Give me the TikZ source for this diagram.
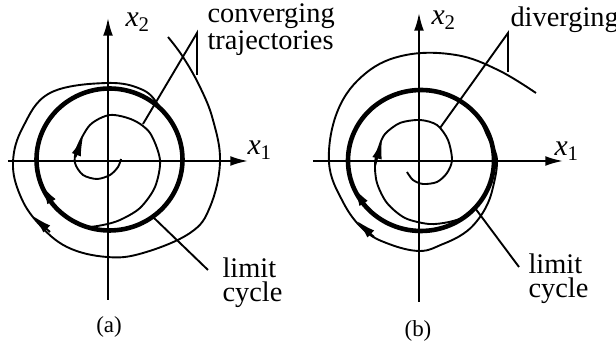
\documentclass[tikz,border=0pt]{standalone}
\usepackage{fontspec}
\setmainfont{Liberation Serif}
\usetikzlibrary{arrows.meta}

\tikzset{
  axis/.style={line width=0.7pt, -{Latex[length=6.5pt,width=3.6pt]}},
  traj/.style={line width=0.7pt},
  limcyc/.style={line width=1.7pt, line cap=round},
  ptr/.style={line width=0.7pt},
  flow/.style={line width=0.7pt, -{Latex[length=7pt,width=3.6pt]}},
  lbl/.style={font=\fontsize{10.5pt}{9pt}\selectfont, align=left, inner sep=0pt},
  axlbl/.style={font=\fontsize{11pt}{13pt}\selectfont, inner sep=0pt},
  caplbl/.style={font=\fontsize{8.5pt}{10pt}\selectfont, inner sep=0pt},
}

\begin{document}
\begin{tikzpicture}[x=0.37pt,y=0.37pt]
    \useasboundingbox (0,-358) rectangle (616,0);
    % (a) converging trajectories
    \begin{scope}[shift={(108,-161)}]
        % Axes
        \draw[axis] (-100,0) -- (140,0);
        \draw[axis] (0,-139) -- (0,143);
        \node[axlbl, anchor=base west] (xoneA) at (139,6) {\textit{x}\textsubscript{1}};
        \node[axlbl, anchor=base west] (xtwoA) at (17,134) {\textit{x}\textsubscript{2}};
        
        % Limit cycle
        \draw[limcyc] plot[domain=360:0, samples=121, variable=\t] ({1.5+73*cos(\t)}, {1.5+71*sin(\t)});
        \draw[flow] (-54.4,-44.1) -- (-66.4,-24.5);
        
        % Outer and inner trajectories
        \draw[traj] plot[smooth, tension=0.65] coordinates {(60,124) (75,104) (92,74) (105,41) (112,-1) (102,-46) (82,-72) (35,-92) (-1,-96) (-41,-86) (-70,-62) (-88,-34) (-95,-1) (-85,34) (-58,68) (-1,78) (35,71) (52,54) (61,42)};
        \draw[flow] (-58,-71) -- (-75,-55);
        \draw[traj] plot[smooth] coordinates {(13,2) (10,-6) (2,-14) (-11,-18) (-25,-14) (-33,-2) (-31,13) (-18,36) (2,46) (25,41) (42,28) (52,1) (47,-26) (32,-47) (12,-59) (-5,-64) (-23,-66) (-36,-60)};
        \draw[flow] (-32.5,4) -- (-25,24);
        
        % Labels
        \node[lbl, anchor=base west] (convA) at (99,111) {converging\\trajectories};
        \coordinate (apexA) at (89,128);
        \coordinate (onInA) at (35,37);
        \coordinate (onOutA) at (89,86);
        \draw[ptr] (onInA) -- (apexA) -- (onOutA);
        \node[lbl, anchor=base west] (limA) at (114,-141) {limit\\cycle};
        \coordinate (onCycA) at (45,-56);
        \coordinate (tipA) at (100,-109);
        \draw[ptr] (onCycA) -- (tipA);
        \node[caplbl] (capA) at (1,-166) {(a)};
    \end{scope}
    % (b) diverging trajectories
    \begin{scope}[shift={(419,-161)}]
        % Axes
        \draw[axis] (-106,0) -- (144,0);
        \draw[axis] (0,-141) -- (0,148);
        \node[axlbl, anchor=base west] (xoneB) at (135,5) {\textit{x}\textsubscript{1}};
        \node[axlbl, anchor=base west] (xtwoB) at (12,136) {\textit{x}\textsubscript{2}};
        
        % Limit cycle
        \draw[limcyc] plot[domain=360:0, samples=121, variable=\t] ({2+73*cos(\t)}, {0.5+70.5*sin(\t)});
        \draw[flow] (-53.9,-44.8) -- (-65.5,-26.4);
        
        % Outer and inner trajectories
        \draw[traj] plot[smooth, tension=0.65] coordinates {(62,41) (68,26) (76,10) (78,-3) (75,-22) (69,-42) (58,-60) (44,-73) (24,-83) (1,-90) (-30,-83) (-55,-69) (-76,-41) (-90,-1) (-81,51) (-53,88) (-13,106) (37,106) (79,91) (117,68)};
        \draw[flow] (-45,-76) -- (-62,-60);
        \draw[traj] plot[smooth] coordinates {(65,-34) (58,-45) (48,-55) (30,-61) (10,-63) (-14,-57) (-32,-42) (-42,-22) (-44,-2) (-40,14) (-34,27) (-19,38) (1,41) (18,36) (29,21) (33,1) (28,-12) (18,-21) (4,-23) (-6,-19) (-12,-11)};
        \draw[flow] (-44,-5) -- (-37,21);
        
        % Labels
        \node[lbl, anchor=base west] (divB) at (91,134) {diverging};
        \coordinate (apexB) at (89,128);
        \coordinate (onInB) at (21,33);
        \coordinate (onOutB) at (89,89);
        \draw[ptr] (onInB) -- (apexB) -- (onOutB);
        \node[lbl, anchor=base west] (limB) at (109,-137) {limit\\cycle};
        \coordinate (onCycB) at (56,-47);
        \coordinate (tipB) at (100,-106);
        \draw[ptr] (onCycB) -- (tipB);
        \node[caplbl] (capB) at (-1,-170) {(b)};
    \end{scope}
\end{tikzpicture}
\end{document}
